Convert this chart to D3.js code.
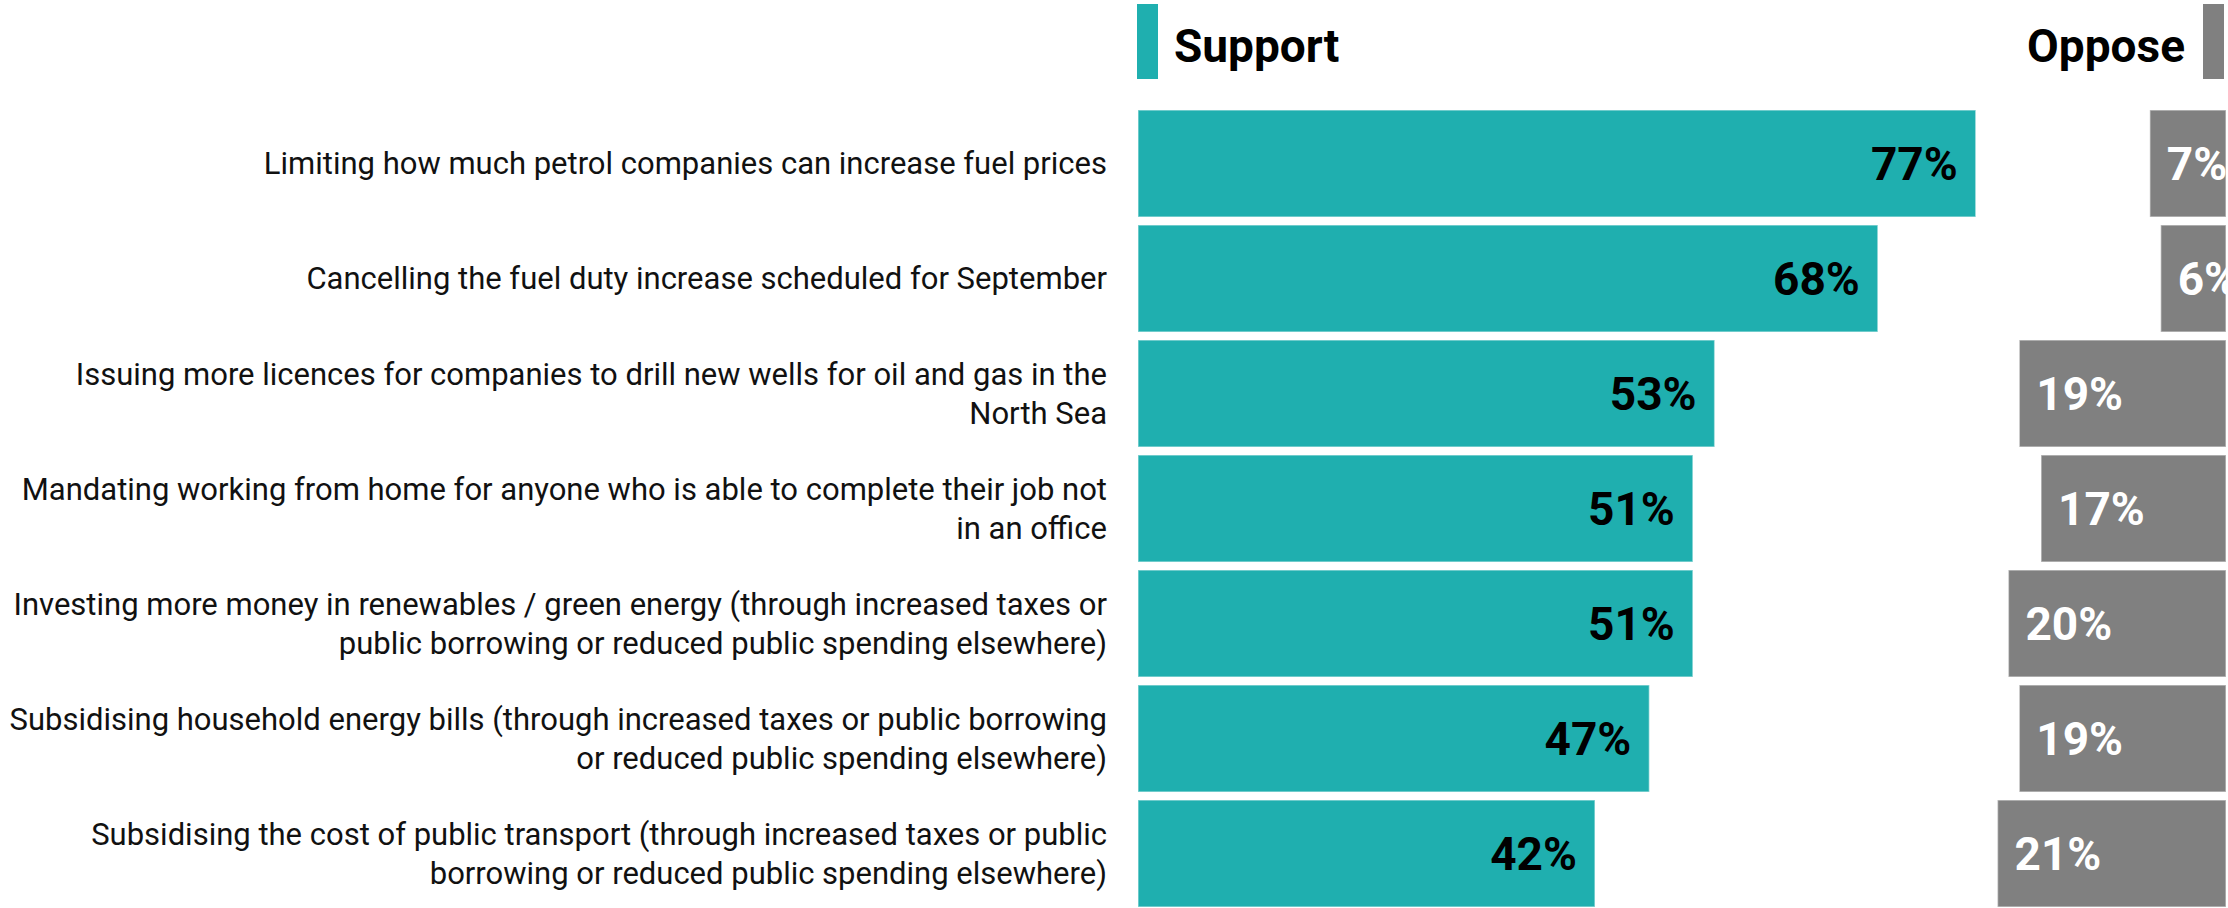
<!DOCTYPE html>
<html>
<head>
<meta charset="utf-8">
<script src="https://cdn.jsdelivr.net/npm/d3@7"></script>
<style>
  html, body { margin: 0; padding: 0; background: #fff; }
  svg { display: block; }
  text { font-family: Roboto, "Open Sans", sans-serif; }
</style>
</head>
<body>
<div id="chart"></div>
<script>
// policy options, each split into the lines shown in the chart
const categories = [
  ['Limiting how much petrol companies can increase fuel prices'],
  ['Cancelling the fuel duty increase scheduled for September'],
  ['Issuing more licences for companies to drill new wells for oil and gas in the', 'North Sea'],
  ['Mandating working from home for anyone who is able to complete their job not', 'in an office'],
  ['Investing more money in renewables / green energy (through increased taxes or', 'public borrowing or reduced public spending elsewhere)'],
  ['Subsidising household energy bills (through increased taxes or public borrowing', 'or reduced public spending elsewhere)'],
  ['Subsidising the cost of public transport (through increased taxes or public', 'borrowing or reduced public spending elsewhere)'],
];
const support = [77, 68, 53, 51, 51, 47, 42];
const oppose = [7, 6, 19, 17, 20, 19, 21];
const seriesNames = ['Support', 'Oppose'];

const cfg = {
  width: 2228,
  height: 908,
  supportX: 1138,
  opposeRight: 2226,
  labelRight: 1107,
  teal: '#1fafaf',
  grey: '#808080',
};

const rows = categories.map((lines, i) => ({
  key: lines.join(' '),
  lines,
  support: support[i],
  oppose: oppose[i],
}));

const svg = d3.select('#chart')
  .append('svg')
  .attr('width', cfg.width)
  .attr('height', cfg.height);

const x = d3.scaleLinear().domain([0, 100]).range([0, 1088]);
const y = d3.scaleBand()
  .domain(rows.map(d => d.key))
  .range([106, 911])
  .paddingInner(0.07)
  .paddingOuter(0.035);

// legend
const legend = svg.append('g').attr('class', 'legend');
legend.append('rect')
  .attr('x', cfg.supportX - 1).attr('y', 4)
  .attr('width', 21).attr('height', 75)
  .attr('fill', cfg.teal);
legend.append('text')
  .attr('x', cfg.supportX + 36).attr('y', 62)
  .attr('font-size', 46).attr('font-weight', 700)
  .attr('fill', '#000')
  .text(seriesNames[0]);
legend.append('rect')
  .attr('x', 2203).attr('y', 4)
  .attr('width', 21).attr('height', 75)
  .attr('fill', cfg.grey);
legend.append('text')
  .attr('x', 2185).attr('y', 62)
  .attr('text-anchor', 'end')
  .attr('font-size', 46).attr('font-weight', 700)
  .attr('fill', '#000')
  .text(seriesNames[1]);

const row = svg.selectAll('g.row')
  .data(rows).enter()
  .append('g')
  .attr('class', 'row')
  .attr('transform', d => `translate(0,${y(d.key)})`);

const bw = y.bandwidth();

// category labels
row.append('text')
  .attr('text-anchor', 'end')
  .attr('font-size', 31)
  .attr('fill', '#111')
  .each(function (d) {
    const lineGap = 39;
    const start = bw / 2 - ((d.lines.length - 1) * lineGap) / 2;
    d3.select(this).selectAll('tspan')
      .data(d.lines).enter()
      .append('tspan')
      .attr('x', cfg.labelRight)
      .attr('y', (l, i) => start + i * lineGap)
      .attr('dy', '0.35em')
      .text(l => l);
  });

// support bars
row.append('rect')
  .attr('x', cfg.supportX)
  .attr('y', 0)
  .attr('width', d => x(d.support))
  .attr('height', bw)
  .attr('fill', cfg.teal)
  .attr('stroke', 'rgba(255,255,255,0.45)')
  .attr('stroke-width', 1.5);

row.append('text')
  .attr('x', d => cfg.supportX + x(d.support) - 18)
  .attr('y', bw / 2)
  .attr('dy', '0.36em')
  .attr('text-anchor', 'end')
  .attr('font-size', 46)
  .attr('font-weight', 700)
  .attr('fill', '#000')
  .text(d => `${d.support}%`);

// oppose bars, anchored to the right edge
row.append('rect')
  .attr('x', d => cfg.opposeRight - x(d.oppose))
  .attr('y', 0)
  .attr('width', d => x(d.oppose))
  .attr('height', bw)
  .attr('fill', cfg.grey)
  .attr('stroke', 'rgba(255,255,255,0.45)')
  .attr('stroke-width', 1.5);

row.append('text')
  .attr('x', d => cfg.opposeRight - x(d.oppose) + 17)
  .attr('y', bw / 2)
  .attr('dy', '0.36em')
  .attr('font-size', 46)
  .attr('font-weight', 700)
  .attr('fill', '#fff')
  .text(d => `${d.oppose}%`);
</script>
</body>
</html>
